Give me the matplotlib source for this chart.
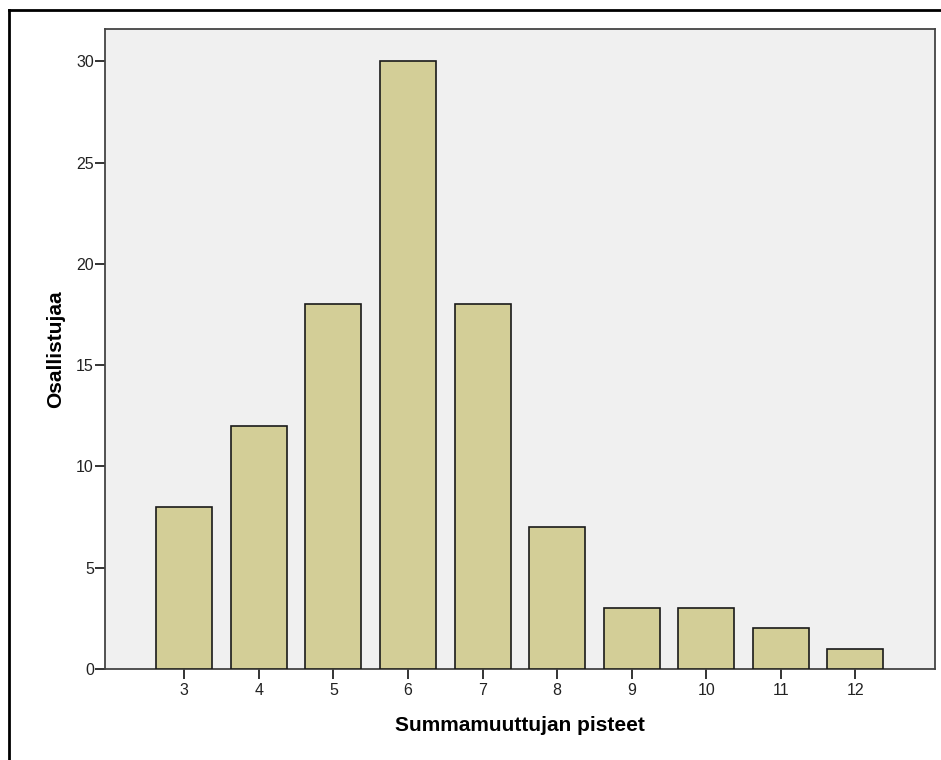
import matplotlib
matplotlib.use('Agg')

import matplotlib.pyplot as plt
from matplotlib.lines import Line2D

# values
scores = [3, 4, 5, 6, 7, 8, 9, 10, 11, 12]
counts = [8, 12, 18, 30, 18, 7, 3, 3, 2, 1]
y_ticks = [0, 5, 10, 15, 20, 25, 30]

plt.rcParams['font.family'] = ['Liberation Sans', 'DejaVu Sans']

W, H = 941, 760
fig = plt.figure(figsize=(W / 100, H / 100), dpi=100)

# plot area in pixels: left 105, top 29, right 935, bottom 669
l, t, r, b = 105, 29, 935, 669
ax = fig.add_axes([l / W, 1 - b / H, (r - l) / W, (b - t) / H])
ax.set_facecolor('#F0F0F0')

ax.bar(scores, counts, width=0.75, color='#D3CE97', edgecolor='#1a1a1a', linewidth=1.2, zorder=3)

ax.set_xlim(1.937, 13.067)
ax.set_ylim(0, 31.6)
ax.set_xticks(scores)
ax.set_yticks(y_ticks)
ax.tick_params(axis='both', direction='out', length=7.5, width=1.4, color='#333333',
               labelsize=11.5, labelcolor='#222222')
ax.tick_params(axis='x', pad=2.5)
ax.tick_params(axis='y', pad=0.5)

for side in ['left', 'bottom', 'top', 'right']:
    ax.spines[side].set_color('#444444')
    ax.spines[side].set_linewidth(1.3)

ax.set_xlabel('Summamuuttujan pisteet', fontsize=15, fontweight='bold', labelpad=13)
ax.set_ylabel('Osallistujaa', fontsize=15, fontweight='bold', labelpad=8)

# outer frame (only left and top edges show in the picture)
fig.add_artist(Line2D([9 / W, 9 / W], [0, 1 - 10 / H], transform=fig.transFigure, color='black', linewidth=2))
fig.add_artist(Line2D([9 / W, 1], [1 - 10 / H, 1 - 10 / H], transform=fig.transFigure, color='black', linewidth=2))

fig.savefig('out.png', dpi=100)
